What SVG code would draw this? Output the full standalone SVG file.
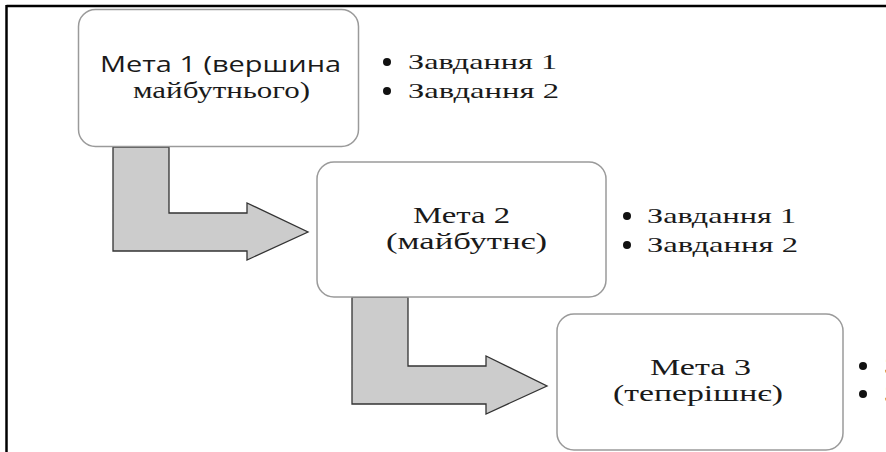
<svg xmlns="http://www.w3.org/2000/svg" width="886" height="452" viewBox="0 0 886 452">
<style>
.frame{stroke:#000;stroke-width:2.5;fill:none}
.box{fill:#fff;stroke:#9a9a9a;stroke-width:1.5}
.arrow{fill:#cccccc;stroke:#333;stroke-width:1.3;stroke-linejoin:miter}
.sans{font-family:'Open Sans','Liberation Sans',sans-serif;font-size:22px;fill:#1a1a1a}
.serif{font-family:'Liberation Serif','DejaVu Serif',serif;font-size:24px;fill:#1a1a1a}
.task{font-family:'Liberation Serif','DejaVu Serif',serif;font-size:21px;fill:#1a1a1a}
.dot{fill:#111}
</style>
<rect width="886" height="452" fill="#fff"/>
<g id="frame">
<line class="frame" x1="6.5" y1="6" x2="886" y2="6"/>
<line class="frame" x1="6.5" y1="5" x2="6.5" y2="452"/>
</g>
<g id="connectors">
<polygon class="arrow" points="113,147 169,147 169,213 247,213 247,203 308,232 247,260 247,251 113,251"/>
<polygon class="arrow" points="352,297 408,297 408,366 486,366 486,356 547,386 486,414 486,404 352,404"/>
</g>
<g id="goal1">
<rect class="box" x="78.5" y="9.5" width="280" height="137" rx="17"/>
<text class="sans" x="100" y="72" textLength="241" lengthAdjust="spacingAndGlyphs">Мета 1 (вершина</text>
<text class="serif" x="133" y="98" textLength="177" lengthAdjust="spacingAndGlyphs">майбутнього)</text>
</g>
<g id="tasks1">
<circle class="dot" cx="387" cy="62" r="4"/>
<text class="task" x="408" y="69" textLength="149" lengthAdjust="spacingAndGlyphs">Завдання 1</text>
<circle class="dot" cx="387" cy="91" r="4"/>
<text class="task" x="408" y="98" textLength="151" lengthAdjust="spacingAndGlyphs">Завдання 2</text>
</g>
<g id="goal2">
<rect class="box" x="317" y="162" width="289" height="135" rx="17"/>
<text class="serif" x="413" y="223" textLength="97" lengthAdjust="spacingAndGlyphs">Мета 2</text>
<text class="serif" x="386" y="249" textLength="161" lengthAdjust="spacingAndGlyphs">(майбутнє)</text>
</g>
<g id="tasks2">
<circle class="dot" cx="627" cy="216" r="4"/>
<text class="task" x="647" y="223" textLength="149" lengthAdjust="spacingAndGlyphs">Завдання 1</text>
<circle class="dot" cx="627" cy="245" r="4"/>
<text class="task" x="647" y="252" textLength="151" lengthAdjust="spacingAndGlyphs">Завдання 2</text>
</g>
<g id="goal3">
<rect class="box" x="557" y="314" width="286" height="136" rx="17"/>
<text class="serif" x="650" y="375" textLength="101" lengthAdjust="spacingAndGlyphs">Мета 3</text>
<text class="serif" x="613" y="401" textLength="170" lengthAdjust="spacingAndGlyphs">(теперішнє)</text>
</g>
<g id="tasks3">
<circle class="dot" cx="863" cy="366" r="4"/>
<text class="task" x="884" y="373" textLength="149" lengthAdjust="spacingAndGlyphs">Завдання 1</text>
<circle class="dot" cx="863" cy="394" r="4"/>
<text class="task" x="884" y="401" textLength="151" lengthAdjust="spacingAndGlyphs">Завдання 2</text>
</g>
</svg>
